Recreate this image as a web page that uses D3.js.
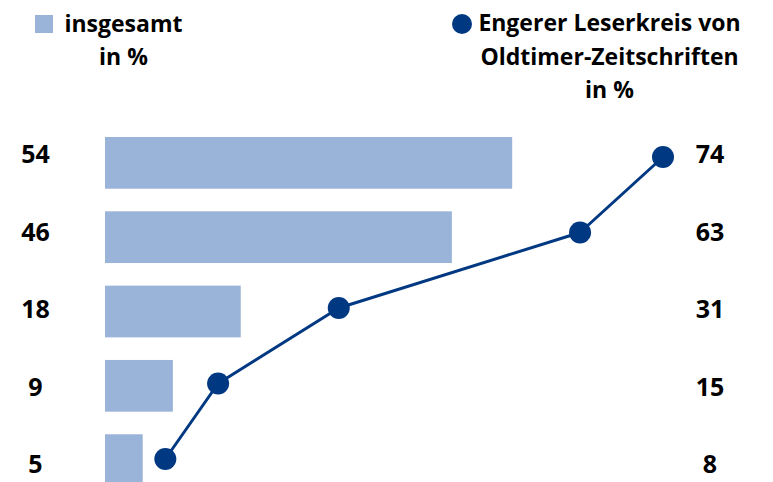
<!DOCTYPE html>
<html>
<head>
<meta charset="utf-8">
<style>
  body { margin: 0; background: #fff; }
  text { font-family: "Open Sans", sans-serif; font-weight: 700; fill: #000; }
</style>
</head>
<body>
<svg width="773" height="482"></svg>
<script src="https://d3js.org/d3.v7.min.js"></script>
<script>
// data
var rows = ["r1", "r2", "r3", "r4", "r5"];
var insgesamt = [54, 46, 18, 9, 5];
var leserkreis = [74, 63, 31, 15, 8];
var legendBars = ["insgesamt", "in %"];
var legendDots = ["Engerer Leserkreis von", "Oldtimer-Zeitschriften", "in %"];

var barColor = "#9ab3d8",
    dotColor = "#003882";

var svg = d3.select("svg");

var x = d3.scaleLinear()
    .domain([0, 74])
    .range([105, 663]);

// bars: step ~74, bar height ~52
var yBar = d3.scaleBand()
    .domain(rows)
    .range([137, 486])
    .paddingInner(0.304)
    .paddingOuter(0);

// line points
var yDot = d3.scalePoint()
    .domain(rows)
    .range([157, 459]);

// value labels (baselines)
var yLab = d3.scalePoint()
    .domain(rows)
    .range([163, 473]);

var data = rows.map(function(r, i) {
  return {row: r, bar: insgesamt[i], dot: leserkreis[i]};
});

svg.append("g").selectAll("rect")
    .data(data)
  .enter().append("rect")
    .attr("x", x(0))
    .attr("y", function(d) { return yBar(d.row); })
    .attr("width", function(d) { return x(d.bar) - x(0); })
    .attr("height", yBar.bandwidth())
    .attr("fill", barColor);

var line = d3.line()
    .x(function(d) { return x(d.dot); })
    .y(function(d) { return yDot(d.row); });

svg.append("path")
    .datum(data)
    .attr("fill", "none")
    .attr("stroke", dotColor)
    .attr("stroke-width", 3)
    .attr("stroke-linejoin", "round")
    .attr("d", line);

svg.append("g").selectAll("circle")
    .data(data)
  .enter().append("circle")
    .attr("cx", function(d) { return x(d.dot); })
    .attr("cy", function(d) { return yDot(d.row); })
    .attr("r", 11)
    .attr("fill", dotColor);

// left labels
svg.append("g").selectAll("text")
    .data(data)
  .enter().append("text")
    .attr("x", 35.5)
    .attr("y", function(d) { return yLab(d.row); })
    .attr("text-anchor", "middle")
    .style("font-size", "25px")
    .text(function(d) { return d.bar; });

// right labels
svg.append("g").selectAll("text")
    .data(data)
  .enter().append("text")
    .attr("x", 710)
    .attr("y", function(d) { return yLab(d.row); })
    .attr("text-anchor", "middle")
    .style("font-size", "25px")
    .text(function(d) { return d.dot; });

// legend left
svg.append("rect")
    .attr("x", 35).attr("y", 15)
    .attr("width", 18).attr("height", 18)
    .attr("fill", barColor);

svg.append("g").selectAll("text")
    .data(legendBars)
  .enter().append("text")
    .attr("x", 123.5)
    .attr("y", function(d, i) { return 32 + i * 32.5; })
    .attr("text-anchor", "middle")
    .style("font-size", "23px")
    .text(function(d) { return d; });

// legend right
svg.append("circle")
    .attr("cx", 462).attr("cy", 24)
    .attr("r", 10)
    .attr("fill", dotColor);

svg.append("g").selectAll("text")
    .data(legendDots)
  .enter().append("text")
    .attr("x", 609.5)
    .attr("y", function(d, i) { return 31 + i * 33.5; })
    .attr("text-anchor", "middle")
    .style("font-size", "23px")
    .text(function(d) { return d; });
</script>
</body>
</html>
